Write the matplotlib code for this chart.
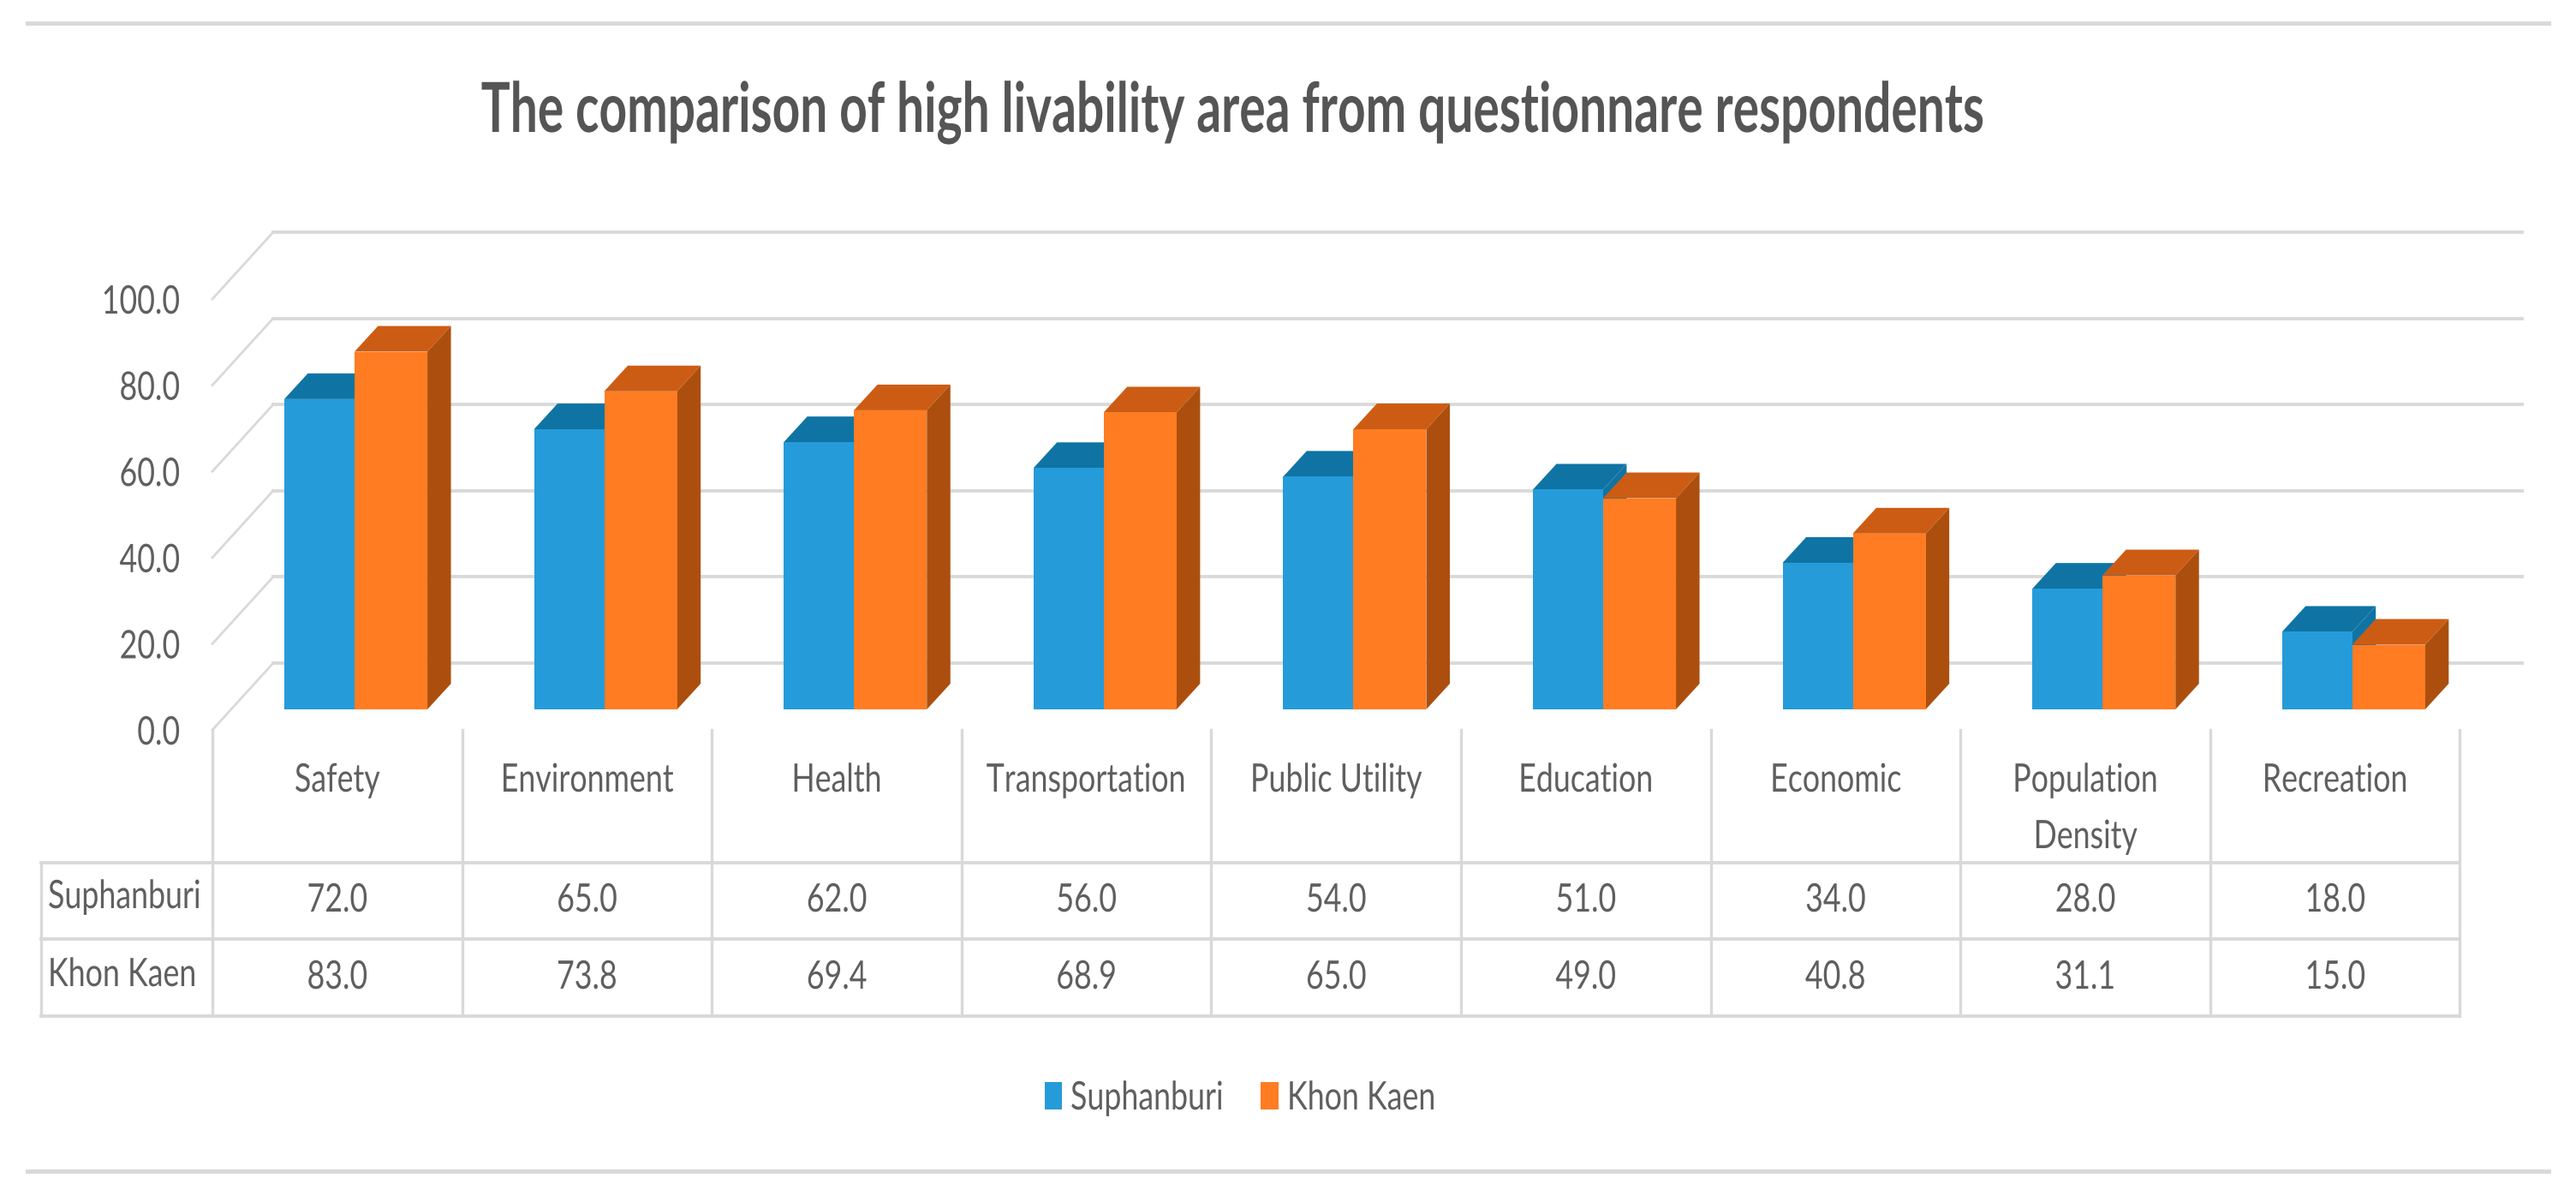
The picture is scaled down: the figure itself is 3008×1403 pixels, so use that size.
import matplotlib
matplotlib.use('Agg')
import matplotlib.pyplot as plt
import matplotlib.patheffects as pe
from matplotlib.patches import Rectangle
from matplotlib.transforms import Affine2D

categories = ['Safety', 'Environment', 'Health', 'Transportation', 'Public Utility',
              'Education', 'Economic', 'Population\nDensity', 'Recreation']
suphanburi = [72.0, 65.0, 62.0, 56.0, 54.0, 51.0, 34.0, 28.0, 18.0]
khon_kaen = [83.0, 73.8, 69.4, 68.9, 65.0, 49.0, 40.8, 31.1, 15.0]
y_ticks = [0, 20, 40, 60, 80, 100]
title = 'The comparison of high livability area from questionnare respondents'

W, H = 3008, 1403
PX_Y = 5.03    # pixels per value unit
PX_X = 291.6   # pixels per category
X0, Y0 = 248, 852

GRID = '#d9d9d9'
TEXT = '#5f5f5f'
FONT = 'Lato'
SIZE = 33
BLUE, ORANGE = '#259bda', '#ff7c22'


class Squeeze(pe.AbstractPathEffect):
    # the source picture is squashed sideways, no installed font is that narrow
    def __init__(self, sx, anchor='center'):
        super().__init__()
        self.sx = sx
        self.anchor = anchor

    def draw_path(self, renderer, gc, tpath, affine, rgbFace=None):
        ext = tpath.get_extents()
        cx = {'left': 0, 'center': (ext.x0 + ext.x1) / 2, 'right': ext.x1}[self.anchor]
        squeeze = Affine2D().translate(-cx, 0).scale(self.sx, 1).translate(cx, 0)
        renderer.draw_path(gc, tpath, squeeze + affine, rgbFace)


def py(px):
    # pixel row -> value units
    return (Y0 - px) / PX_Y


fig = plt.figure(figsize=(W / 100, H / 100), dpi=100, facecolor='white')
ax = fig.add_axes([X0 / W, (H - Y0) / H, (2945 - X0) / W, (PX_Y * 100) / H])
ax.set_xlim(0, (2945 - X0) / PX_X)
ax.set_ylim(0, 100)
for s in ax.spines.values():
    s.set_visible(False)
ax.set_xticks([])
ax.set_yticks(y_ticks)
ax.set_yticklabels([f'{v:.1f}' for v in y_ticks], family=FONT, fontsize=SIZE, color=TEXT)
ax.tick_params(axis='y', length=0, pad=27)
for lab in ax.get_yticklabels():
    lab.set_path_effects([Squeeze(0.78, 'right')])

# walls: back grid and the diagonals down to the front
wall_dx, wall_dy = 71 / PX_X, 78 / PX_Y
xmax = ax.get_xlim()[1]
for v in y_ticks:
    ax.plot([wall_dx, xmax], [v + wall_dy, v + wall_dy], color=GRID, lw=2.8, clip_on=False, zorder=1)
    ax.plot([0, wall_dx], [v, v + wall_dy], color=GRID, lw=2, clip_on=False, zorder=1)

# bars with fake depth
floor = 24 / PX_Y
dx, dy = 27.5 / PX_X, 30 / PX_Y


def bars(values, left, width, front, top, side, z):
    xs = [i + left for i in range(len(values))]
    ax.bar(xs, values, width=width, bottom=floor, align='edge', color=front, zorder=z + 0.2, clip_on=False)
    for x, v in zip(xs, values):
        t = v + floor
        ax.fill([x, x + dx, x + width + dx, x + width], [t, t + dy, t + dy, t], color=top, lw=0, zorder=z, clip_on=False)
        ax.fill([x + width, x + width + dx, x + width + dx, x + width],
                [floor, floor + dy, t + dy, t], color=side, lw=0, zorder=z + 0.1, clip_on=False)


bars(suphanburi, 0.288, 0.281, BLUE, '#0f74a4', '#0f74a4', 2)
bars(khon_kaen, 0.569, 0.292, ORANGE, '#cc5c14', '#ac4f0e', 3)

# data table under the plot
n = len(categories)
tl = (48 - X0) / PX_X
for i in range(n + 1):
    ax.plot([i, i], [py(852), py(1186)], color=GRID, lw=2.4, clip_on=False)
for yy in (1007, 1096.5, 1186):
    ax.plot([tl, n], [py(yy), py(yy)], color=GRID, lw=2.8, clip_on=False)
ax.plot([tl, tl], [py(1007), py(1186)], color=GRID, lw=2.4, clip_on=False)


def label(x, y, s, anchor='center'):
    ax.text(x, y, s, ha=anchor, va='baseline', family=FONT, fontsize=SIZE, color=TEXT,
            clip_on=False, path_effects=[Squeeze(0.78, anchor)])


for i, c in enumerate(categories):
    for k, part in enumerate(c.split('\n')):
        label(i + 0.5, py(924 + 66 * k), part)
    label(i + 0.5, py(1064), f'{suphanburi[i]:.1f}')
    label(i + 0.5, py(1154), f'{khon_kaen[i]:.1f}')
label((56 - X0) / PX_X, py(1060), 'Suphanburi', 'left')
label((56 - X0) / PX_X, py(1151), 'Khon Kaen', 'left')

# frame rules top and bottom
for yy in (27, 1367):
    fig.add_artist(plt.Line2D([32 / W, 2976 / W], [1 - yy / H, 1 - yy / H], color=GRID, lw=3.6))

fig.text(1438 / W, 1 - 154 / H, title, ha='center', va='baseline', family=FONT, fontweight='bold',
         fontsize=58, color='#555555', path_effects=[Squeeze(0.706)])

# legend, placed by hand since the squeezed labels are narrower than a Legend would assume
for x0, w, col, name, tx in [(1220, 20, BLUE, 'Suphanburi', 1250), (1472, 21, ORANGE, 'Khon Kaen', 1503)]:
    fig.add_artist(Rectangle((x0 / W, 1 - 1295 / H), w / W, 32 / H, transform=fig.transFigure, color=col, lw=0))
    fig.text(tx / W, 1 - 1295 / H, name, ha='left', va='baseline', family=FONT, fontsize=SIZE, color=TEXT,
             path_effects=[Squeeze(0.78, 'left')])

fig.savefig('out.png', dpi=100)
